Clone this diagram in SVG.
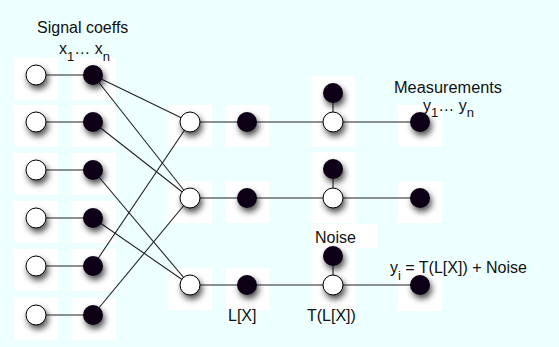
<svg xmlns="http://www.w3.org/2000/svg" width="559" height="347" viewBox="0 0 559 347">
<defs>
<filter id="sh" x="-80%" y="-80%" width="260%" height="260%">
<feDropShadow dx="2" dy="4" stdDeviation="3" flood-color="#000" flood-opacity="0.7"/>
</filter>
<style>
.bg{fill:#EEFFFF}
.sq{fill:#FFFFFF}
.op{fill:#FFFFFF;stroke:#000;stroke-width:1;filter:url(#sh)}
.bk{fill:#0C0012;filter:url(#sh)}
.ln{stroke:#222;stroke-width:1.1;fill:none}
.t{font-family:"Liberation Sans",Arial,sans-serif;font-size:16px;fill:#111}
.s{font-size:13px}
</style>
</defs>
<rect class="bg" x="0" y="0" width="559" height="347"/>

<g id="squares">
<rect class="sq" x="14" y="58" width="44" height="42"/>
<rect class="sq" x="14" y="105" width="44" height="42"/>
<rect class="sq" x="14" y="153" width="44" height="42"/>
<rect class="sq" x="14" y="201" width="44" height="42"/>
<rect class="sq" x="14" y="249" width="44" height="42"/>
<rect class="sq" x="14" y="298" width="44" height="42"/>
<rect class="sq" x="72" y="58" width="44" height="42"/>
<rect class="sq" x="72" y="105" width="44" height="42"/>
<rect class="sq" x="72" y="153" width="44" height="42"/>
<rect class="sq" x="72" y="201" width="44" height="42"/>
<rect class="sq" x="72" y="249" width="44" height="42"/>
<rect class="sq" x="72" y="298" width="44" height="42"/>
<rect class="sq" x="168" y="105" width="44" height="42"/>
<rect class="sq" x="168" y="181" width="44" height="42"/>
<rect class="sq" x="168" y="268" width="44" height="42"/>
<rect class="sq" x="226" y="105" width="43" height="42"/>
<rect class="sq" x="226" y="181" width="43" height="42"/>
<rect class="sq" x="226" y="268" width="43" height="42"/>
<rect class="sq" x="312" y="76" width="43" height="71"/>
<rect class="sq" x="312" y="152" width="43" height="71"/>
<rect class="sq" x="312" y="224" width="65" height="24"/>
<rect class="sq" x="312" y="248" width="43" height="63"/>
<rect class="sq" x="398" y="105" width="44" height="42"/>
<rect class="sq" x="398" y="181" width="44" height="42"/>
<rect class="sq" x="398" y="268" width="44" height="43"/>
</g>

<g id="connectors">
<line class="ln" x1="36" y1="75" x2="93" y2="75"/>
<line class="ln" x1="36" y1="122" x2="93" y2="122"/>
<line class="ln" x1="36" y1="170" x2="93" y2="170"/>
<line class="ln" x1="36" y1="218" x2="93" y2="218"/>
<line class="ln" x1="36" y1="266" x2="93" y2="266"/>
<line class="ln" x1="36" y1="315" x2="93" y2="315"/>
<line class="ln" x1="93" y1="75" x2="190" y2="122"/>
<line class="ln" x1="93" y1="75" x2="190" y2="198"/>
<line class="ln" x1="93" y1="122" x2="190" y2="198"/>
<line class="ln" x1="93" y1="170" x2="190" y2="285"/>
<line class="ln" x1="93" y1="218" x2="190" y2="285"/>
<line class="ln" x1="93" y1="266" x2="190" y2="122"/>
<line class="ln" x1="93" y1="315" x2="190" y2="198"/>
<line class="ln" x1="190" y1="122" x2="420" y2="122"/>
<line class="ln" x1="190" y1="198" x2="420" y2="198"/>
<line class="ln" x1="190" y1="285" x2="420" y2="285"/>
<line class="ln" x1="333" y1="93" x2="333" y2="122"/>
<line class="ln" x1="333" y1="169" x2="333" y2="198"/>
<line class="ln" x1="333" y1="256" x2="333" y2="285"/>
</g>

<g id="x-inputs">
<circle class="op" cx="36" cy="75" r="10"/>
<circle class="op" cx="36" cy="122" r="10"/>
<circle class="op" cx="36" cy="170" r="10"/>
<circle class="op" cx="36" cy="218" r="10"/>
<circle class="op" cx="36" cy="266" r="10"/>
<circle class="op" cx="36" cy="315" r="10"/>
</g>
<g id="x-coeffs">
<circle class="bk" cx="93" cy="75" r="10"/>
<circle class="bk" cx="93" cy="122" r="10"/>
<circle class="bk" cx="93" cy="170" r="10"/>
<circle class="bk" cx="93" cy="218" r="10"/>
<circle class="bk" cx="93" cy="266" r="10"/>
<circle class="bk" cx="93" cy="315" r="10"/>
</g>
<g id="mix">
<circle class="op" cx="190" cy="122" r="10"/>
<circle class="op" cx="190" cy="198" r="10"/>
<circle class="op" cx="190" cy="285" r="10"/>
</g>
<g id="LX">
<circle class="bk" cx="247" cy="122" r="10"/>
<circle class="bk" cx="247" cy="198" r="10"/>
<circle class="bk" cx="247" cy="285" r="10"/>
</g>
<g id="noise">
<circle class="bk" cx="333" cy="93" r="10"/>
<circle class="bk" cx="333" cy="169" r="10"/>
<circle class="bk" cx="333" cy="256" r="10"/>
</g>
<g id="TLX">
<circle class="op" cx="333" cy="122" r="10"/>
<circle class="op" cx="333" cy="198" r="10"/>
<circle class="op" cx="333" cy="285" r="10"/>
</g>
<g id="measurements">
<circle class="bk" cx="420" cy="122" r="10"/>
<circle class="bk" cx="420" cy="198" r="10"/>
<circle class="bk" cx="420" cy="285" r="10"/>
</g>

<g id="labels">
<text class="t" x="37" y="33">Signal coeffs</text>
<text class="t" x="59" y="54">x<tspan class="s" dy="7">1</tspan><tspan dy="-7">… x</tspan><tspan class="s" dy="7">n</tspan></text>
<text class="t" x="394" y="93" textLength="108" lengthAdjust="spacingAndGlyphs">Measurements</text>
<text class="t" x="423" y="111">y<tspan class="s" dy="6">1</tspan><tspan dy="-6">… y</tspan><tspan class="s" dy="6">n</tspan></text>
<text class="t" x="315" y="243">Noise</text>
<text class="t" x="228" y="321">L[X]</text>
<text class="t" x="307" y="321">T(L[X])</text>
<text class="t" x="390" y="273">y<tspan class="s" dy="7">i</tspan><tspan dy="-7"> = T(L[X]) + Noise</tspan></text>
</g>
</svg>
